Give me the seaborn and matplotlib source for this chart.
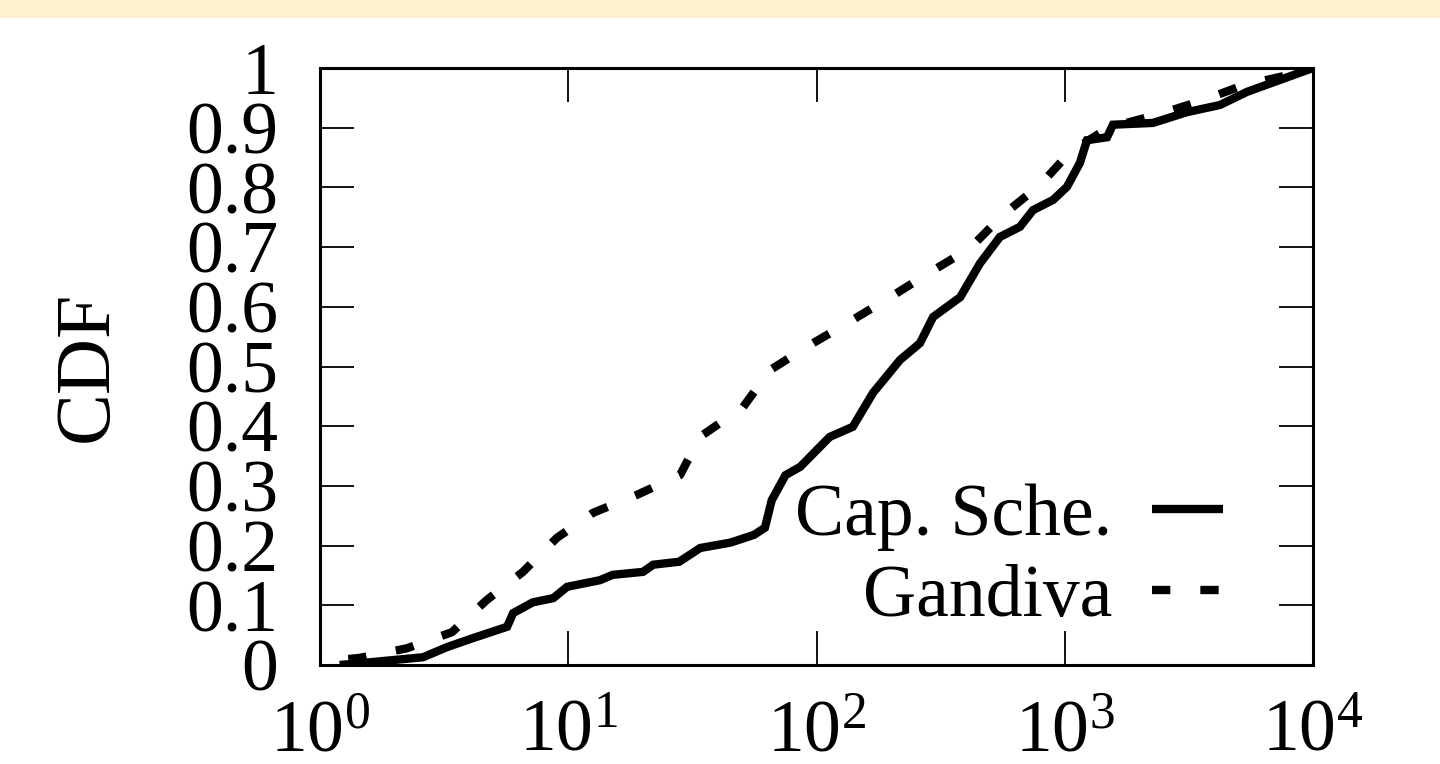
import numpy as np
import pandas as pd
import matplotlib
matplotlib.use("Agg")
import matplotlib.pyplot as plt
import seaborn as sns
from matplotlib.ticker import FixedLocator, FuncFormatter, NullLocator
from matplotlib.patches import Rectangle

# ---- data ----
cap_x = [1.2, 1.45, 2.6, 3.25, 4.13, 5.67, 6.0, 7.2, 8.7, 9.9, 13.4, 15.1, 20, 22, 28, 34,
         45, 56, 62, 66, 75, 86, 113, 140, 169, 217, 261, 295, 379, 456, 548, 660, 745,
         897, 1021, 1151, 1229, 1480, 1564, 2266, 3105, 4217, 5420, 7361, 10000]
cap_y = [0.0, 0.003, 0.013, 0.03, 0.045, 0.064, 0.087, 0.105, 0.112, 0.131, 0.142, 0.151,
         0.156, 0.168, 0.173, 0.196, 0.205, 0.218, 0.23, 0.276, 0.318, 0.332, 0.382, 0.399,
         0.456, 0.511, 0.539, 0.583, 0.616, 0.673, 0.717, 0.734, 0.762, 0.779, 0.801, 0.841,
         0.879, 0.884, 0.905, 0.908, 0.926, 0.938, 0.96, 0.98, 1.0]

gan_x = [1.3, 1.45, 2.24, 3.4, 4.7, 6.57, 9.0, 12.6, 18.9, 28.2, 33.9, 50.6, 65, 94, 136,
         198, 287, 415, 564, 795, 1050, 1500, 2420, 3600, 5230, 8300, 10000]
gan_y = [0.01, 0.012, 0.028, 0.055, 0.109, 0.156, 0.213, 0.255, 0.285, 0.318, 0.382, 0.432,
         0.494, 0.536, 0.575, 0.616, 0.658, 0.698, 0.754, 0.804, 0.859, 0.9, 0.923, 0.946,
         0.971, 0.99, 1.0]

series_names = ["Cap. Sche.", "Gandiva"]
x_ticks = [1, 10, 100, 1000, 10000]
y_ticks = [0, 0.1, 0.2, 0.3, 0.4, 0.5, 0.6, 0.7, 0.8, 0.9, 1.0]
y_label = "CDF"

# ---- style ----
sns.set_style("ticks")
plt.rcParams["font.family"] = ["Liberation Serif", "DejaVu Serif"]
plt.rcParams["mathtext.default"] = "regular"
plt.rcParams["mathtext.fontset"] = "custom"
plt.rcParams["mathtext.rm"] = "Liberation Serif"

FS = 53

fig = plt.figure(figsize=(14.4, 7.64), dpi=100)
fig.patch.set_facecolor("white")
fig.patches.append(Rectangle((0, 1 - 18 / 764), 1, 18 / 764, transform=fig.transFigure,
                             facecolor="#FFF1CE", edgecolor="none", zorder=0))

ax = fig.add_axes([320 / 1440, 1 - 665 / 764, (1313 - 320) / 1440, (665 - 68) / 764])
ax.set_facecolor("white")

df_cap = pd.DataFrame({"x": cap_x, "y": cap_y})
df_gan = pd.DataFrame({"x": gan_x, "y": gan_y})

sns.lineplot(data=df_cap, x="x", y="y", ax=ax, color="black", linewidth=6,
             estimator=None, sort=False, label=series_names[0])
sns.lineplot(data=df_gan, x="x", y="y", ax=ax, color="black", linewidth=6,
             estimator=None, sort=False, label=series_names[1])
lines = ax.get_lines()
lines[1].set_dashes((2.2, 3.6))
lines[1].set_dash_capstyle("butt")
lines[0].set_solid_capstyle("butt")
lines[0].set_solid_joinstyle("miter")

ax.set_xscale("log")
ax.set_xlim(1, 10000)
ax.set_ylim(0, 1)
ax.xaxis.set_major_locator(FixedLocator(x_ticks))
ax.xaxis.set_minor_locator(NullLocator())
ax.xaxis.set_major_formatter(FuncFormatter(lambda v, p: r"$10^{%d}$" % int(round(np.log10(v)))))
ax.yaxis.set_major_locator(FixedLocator(y_ticks))
ax.yaxis.set_major_formatter(FuncFormatter(lambda v, p: f"{v:g}"))

ax.tick_params(axis="both", which="major", direction="in", length=24.5, width=1.3,
               top=True, right=True, labelsize=FS, colors="black")
ax.tick_params(axis="y", pad=30)
ax.tick_params(axis="x", pad=25)
for s in ax.spines.values():
    s.set_visible(True)
    s.set_linewidth(2.2)
    s.set_color("black")

ax.set_xlabel("")
ax.set_ylabel(y_label, fontsize=FS + 3, labelpad=45, color="black")

leg = ax.legend(loc="lower right", bbox_to_anchor=((1223 - 320) / 993, (665 - 632) / 597),
                frameon=False, markerfirst=False, fontsize=FS, handlelength=0.96,
                handletextpad=0.54, labelspacing=0.18, borderpad=0, borderaxespad=0)
for t in leg.get_texts():
    t.set_color("black")

fig.savefig("out.png", dpi=100)
